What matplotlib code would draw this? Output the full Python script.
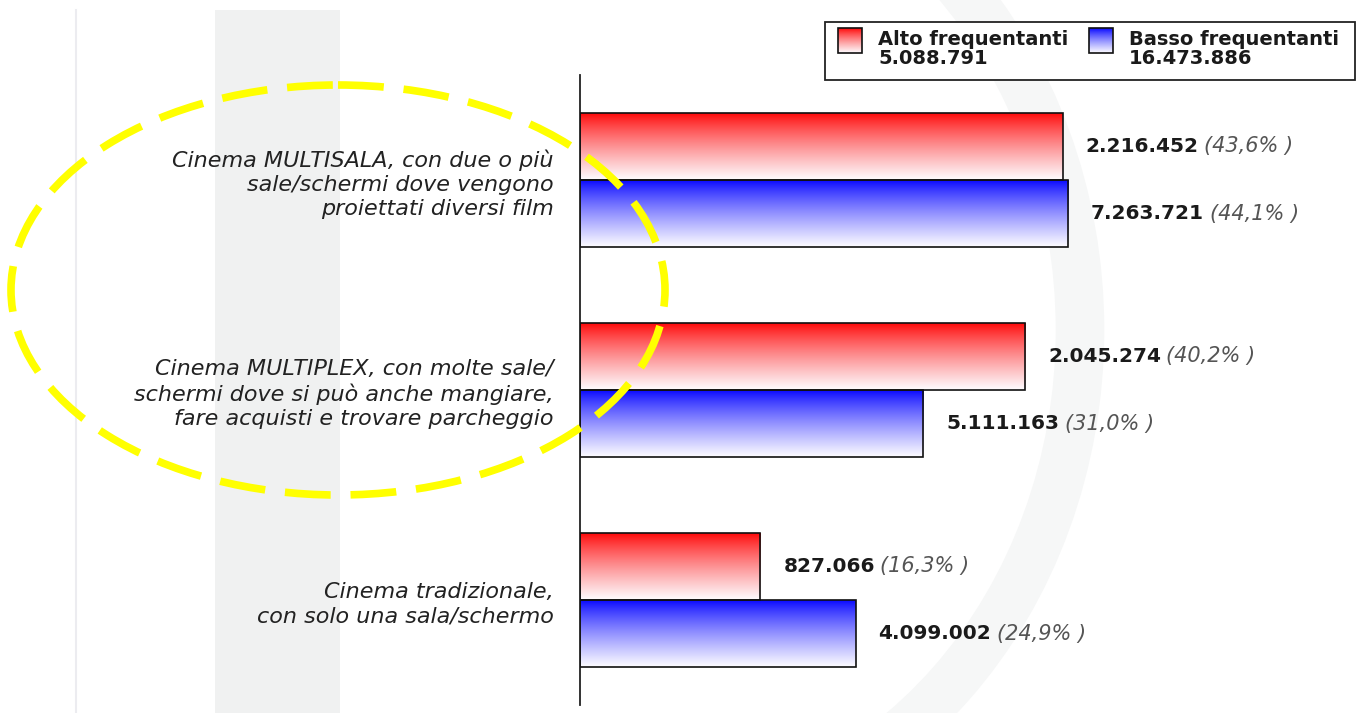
import numpy as np
import matplotlib
matplotlib.use('Agg')
import matplotlib.pyplot as plt
from matplotlib.patches import Ellipse, Rectangle, Arc

# Data
categories = ['Cinema MULTISALA, con due o più\nsale/schermi dove vengono\nproiettati diversi film',
              'Cinema MULTIPLEX, con molte sale/\nschermi dove si può anche mangiare,\nfare acquisti e trovare parcheggio',
              'Cinema tradizionale,\ncon solo una sala/schermo']
alto_pct = [43.6, 40.2, 16.3]
basso_pct = [44.1, 31.0, 24.9]
alto_n = ['2.216.452', '2.045.274', '827.066']
basso_n = ['7.263.721', '5.111.163', '4.099.002']
alto_pct_lbl = ['(43,6% )', '(40,2% )', '(16,3% )']
basso_pct_lbl = ['(44,1% )', '(31,0% )', '(24,9% )']
legend_names = ['Alto frequentanti\n5.088.791', 'Basso frequentanti\n16.473.886']

W, H = 1358, 713
fig = plt.figure(figsize=(W / 100, H / 100), dpi=100)
fig.patch.set_facecolor('white')

# faint watermark in the background
bg = fig.add_axes([0, 0, 1, 1], zorder=0)
bg.set_xlim(0, W); bg.set_ylim(H, 0); bg.axis('off')
bg.plot([76, 76], [10, 713], color='#ececf0', lw=1.5)
bg.add_patch(Rectangle((215, 10), 125, 703, facecolor='#f0f1f1', edgecolor='none'))
bg.add_patch(Arc((640, 330), 880, 1000, theta1=-90, theta2=90, color='#f6f7f7', lw=35))

def grad(top, n=100):
    t = np.linspace(0, 1, n) ** 0.8
    top = np.array(matplotlib.colors.to_rgb(top))
    bottom = np.array(matplotlib.colors.to_rgb('#fdfcff'))
    cols = top[None, :] * (1 - t[:, None]) + bottom[None, :] * t[:, None]
    return cols[:, None, :]

ax = fig.add_axes([580 / W, 1 - 705 / H, 1 - 580 / W, 630 / H], zorder=2)
ax.patch.set_alpha(0)

pos = np.arange(len(categories))
h = 0.32
series = [(alto_pct, alto_n, alto_pct_lbl, '#ff0000', -h / 2),
          (basso_pct, basso_n, basso_pct_lbl, '#0000ff', h / 2)]
for vals, nums, plbl, col, off in series:
    bars = ax.barh(pos + off, vals, height=h, facecolor='none', edgecolor='#111111', lw=1.2, zorder=3)
    for b, v, n, p in zip(bars, vals, nums, plbl):
        y0 = b.get_y()
        im = ax.imshow(grad(col), extent=(0, v, y0 + h, y0), origin='upper', aspect='auto', zorder=2)
        im.set_clip_path(b)
        t = ax.annotate(n, xy=(v, y0 + h / 2), xytext=(16.5, 0), textcoords='offset points',
                        va='center', ha='left', fontsize=14.5, fontweight='bold', color='#1a1a1a')
        ax.annotate(p, xy=(1, 0.5), xycoords=t, xytext=(4, 0), textcoords='offset points',
                    va='center', ha='left', fontsize=15, style='italic', color='#555555')

ax.set_xlim(0, 778 / 11.07)
ax.set_ylim(2.5, -0.5)
ax.set_yticks(pos)
ax.set_yticklabels(categories, fontsize=16, style='italic', color='#222222',
                   multialignment='right', linespacing=1.25)
ax.tick_params(axis='y', length=0, pad=19)
ax.set_xticks([])
for s in ['top', 'right', 'bottom']:
    ax.spines[s].set_visible(False)
ax.spines['left'].set_linewidth(1.3)
ax.spines['left'].set_color('#222222')

# overlay: legend and yellow ellipse
ov = fig.add_axes([0, 0, 1, 1], zorder=5)
ov.set_xlim(0, W); ov.set_ylim(H, 0); ov.axis('off')
ov.patch.set_alpha(0)
ov.add_patch(Rectangle((825, 22), 530, 58, facecolor='white', edgecolor='#222222', lw=1.3))
for x, col, name in [(838, '#ff0000', legend_names[0]), (1089, '#0000ff', legend_names[1])]:
    r = Rectangle((x, 28), 24, 25, facecolor='none', edgecolor='#111111', lw=1.2, zorder=3)
    ov.add_patch(r)
    im = ov.imshow(grad(col), extent=(x, x + 24, 53, 28), aspect='auto', zorder=2)
    im.set_clip_path(r)
    ov.text(x + 40, 49, name, fontsize=14, fontweight='bold', color='#1a1a1a',
            va='center', ha='left', linespacing=1.0)
ov.set_xlim(0, W); ov.set_ylim(H, 0)

ov.add_patch(Ellipse((338, 290), 654, 410, fill=False, edgecolor='#ffff00', lw=5.5,
                     linestyle=(0, (6, 2.6))))

fig.savefig('out.png', dpi=100)
